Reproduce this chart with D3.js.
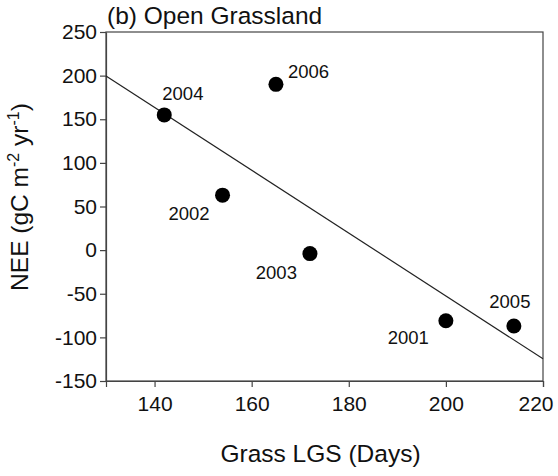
<!DOCTYPE html>
<html>
<head>
<meta charset="utf-8">
<script src="https://cdn.jsdelivr.net/npm/d3@7"></script>
<style>
  body { margin: 0; background: #fff; }
  svg text { font-family: "Liberation Sans", Arial, sans-serif; fill: #111; }
</style>
</head>
<body>
<div class="nee_chart"></div>
<script>
// open grassland NEE vs grass LGS
const years = ['2001', '2002', '2003', '2004', '2005', '2006'];
const lgsDays = [200, 154, 172, 142, 214, 165];
const neeValues = [-81, 63, -4, 155, -87, 190];
const xTicks = [140, 160, 180, 200, 220];
const yTicks = [-150, -100, -50, 0, 50, 100, 150, 200, 250];

const W = 558, H = 476;
const margin = {top: 32, right: 15, bottom: 95, left: 106};
const innerWidth = W - margin.left - margin.right;
const innerHeight = H - margin.top - margin.bottom;

const svg = d3.select('.nee_chart').append('svg')
    .attr('width', W)
    .attr('height', H);

const g = svg.append('g')
    .attr('transform', `translate(${margin.left},${margin.top})`);

// scales
const xScale = d3.scaleLinear().domain([130, 220]).range([0, innerWidth]);
const yScale = d3.scaleLinear().domain([-150, 250]).range([innerHeight, 0]);

// frame (top + right)
g.append('rect')
    .attr('width', innerWidth)
    .attr('height', innerHeight)
    .attr('fill', 'none')
    .attr('stroke', '#444')
    .attr('stroke-width', 1.2);

// axes - plain hyphen for negatives like the original
const fmt = d => String(d);
const xAxis = d3.axisBottom(xScale).tickValues(xTicks).tickFormat(fmt).tickSize(6).tickSizeOuter(6).tickPadding(9);
const yAxis = d3.axisLeft(yScale).tickValues(yTicks).tickFormat(fmt).tickSize(6).tickSizeOuter(0).tickPadding(3);

const xg = g.append('g')
    .attr('transform', `translate(0,${innerHeight})`)
    .call(xAxis);
const yg = g.append('g').call(yAxis);

[xg, yg].forEach(a => {
  a.selectAll('.domain, .tick line').attr('stroke', '#444').attr('stroke-width', 1.2);
  a.selectAll('text').attr('font-size', 21).attr('fill', '#111');
});

// last x label sits inside the page edge
xg.selectAll('.tick text')
    .filter(d => d === 220)
    .attr('text-anchor', 'end')
    .attr('x', 10);

// regression line (least squares from the points)
const points = years.map((y, i) => ({year: y, x: lgsDays[i], y: neeValues[i]}));
const mx = d3.mean(points, d => d.x), my = d3.mean(points, d => d.y);
const slope = d3.sum(points, d => (d.x - mx) * (d.y - my)) / d3.sum(points, d => (d.x - mx) ** 2);
const fit = x => my + slope * (x - mx);
const xDom = xScale.domain();

g.append('line')
    .attr('x1', xScale(xDom[0])).attr('y1', yScale(fit(xDom[0])))
    .attr('x2', xScale(xDom[1])).attr('y2', yScale(fit(xDom[1])))
    .attr('stroke', '#222')
    .attr('stroke-width', 1.2);

// points
g.selectAll('circle')
    .data(points)
    .enter()
    .append('circle')
    .attr('cx', d => xScale(d.x))
    .attr('cy', d => yScale(d.y))
    .attr('r', 7.5)
    .attr('fill', '#000');

// year labels, offsets relative to the dot
const labelPos = {
  '2001': {dx: -17, dy: 23, anchor: 'end'},
  '2002': {dx: -13, dy: 25, anchor: 'end'},
  '2003': {dx: -13, dy: 25, anchor: 'end'},
  '2004': {dx: -2, dy: -15, anchor: 'start'},
  '2005': {dx: -4, dy: -18, anchor: 'middle'},
  '2006': {dx: 12, dy: -6, anchor: 'start'}
};

g.selectAll('.yr')
    .data(points)
    .enter()
    .append('text')
    .classed('yr', true)
    .attr('x', d => xScale(d.x) + labelPos[d.year].dx)
    .attr('y', d => yScale(d.y) + labelPos[d.year].dy)
    .attr('text-anchor', d => labelPos[d.year].anchor)
    .attr('font-size', 18.5)
    .attr('fill', '#222')
    .text(d => d.year);

// title
g.append('text')
    .attr('x', 1)
    .attr('y', -8)
    .attr('font-size', 24.5)
    .text('(b) Open Grassland');

// x label
g.append('text')
    .attr('x', innerWidth / 2 - 4)
    .attr('y', innerHeight + 81)
    .attr('text-anchor', 'middle')
    .attr('font-size', 24.5)
    .text('Grass LGS (Days)');

// y label with superscripts
const yl = svg.append('text')
    .attr('transform', 'translate(28,197) rotate(-90)')
    .attr('text-anchor', 'middle')
    .attr('font-size', 24.5);
yl.append('tspan').text('NEE (gC m');
yl.append('tspan').attr('dy', -9).attr('font-size', 16).text('-2');
yl.append('tspan').attr('dy', 9).text(' yr');
yl.append('tspan').attr('dy', -9).attr('font-size', 16).text('-1');
yl.append('tspan').attr('dy', 9).text(')');
</script>
</body>
</html>
